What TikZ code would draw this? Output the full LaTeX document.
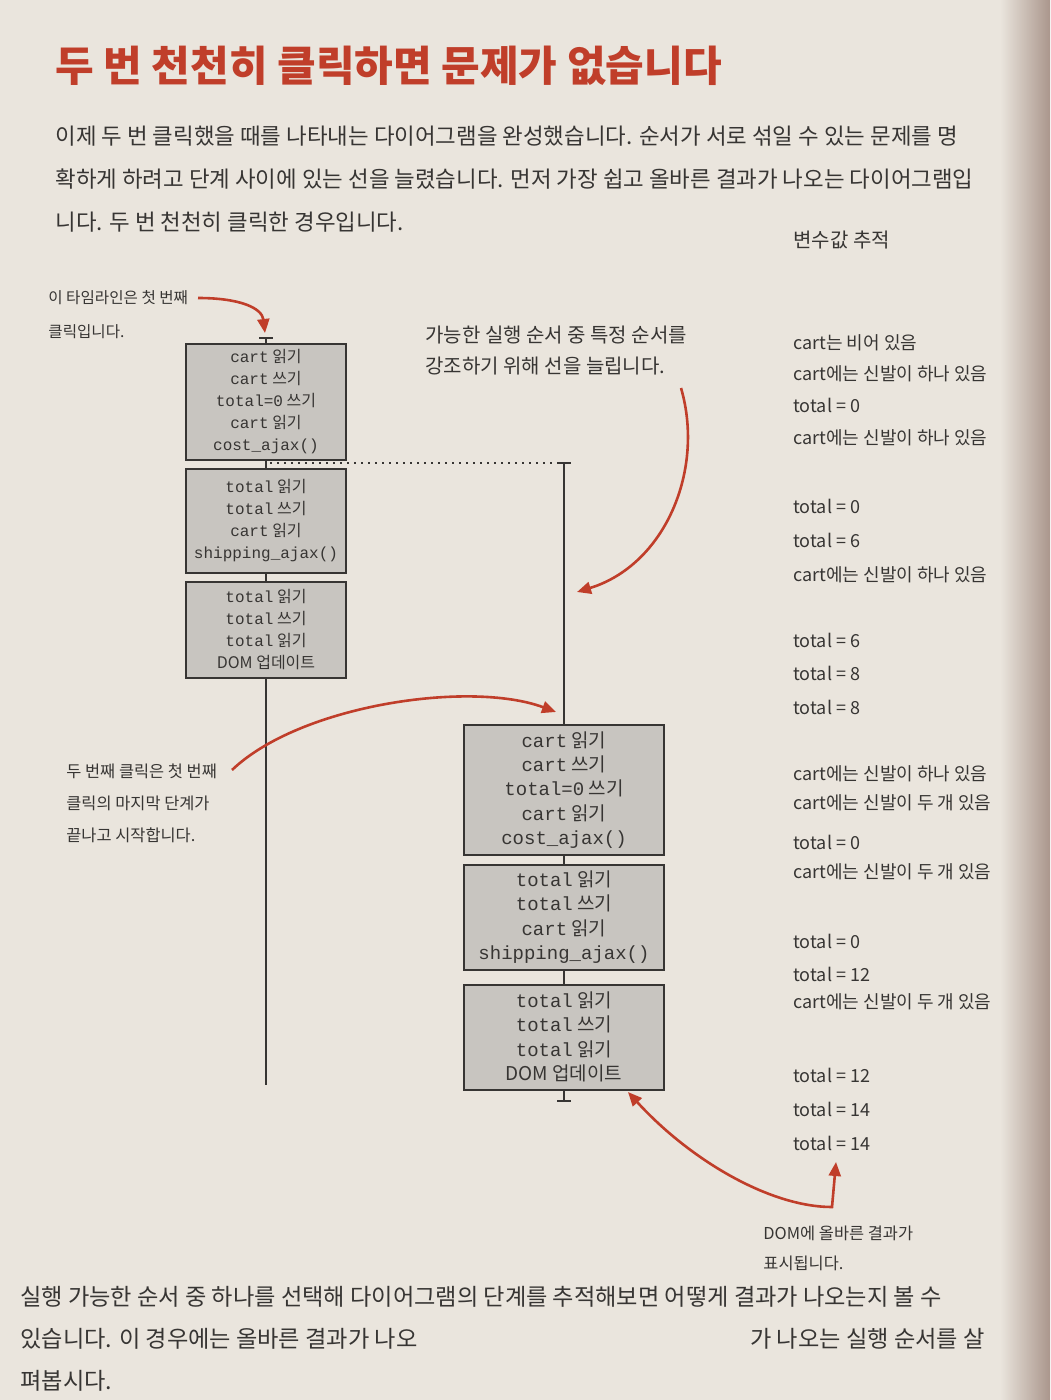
\documentclass[tikz,border=0pt]{standalone}
\usepackage{fontspec}
\setmainfont{Noto Sans CJK KR}
\newfontfamily\monofnt{Liberation Mono}
\usetikzlibrary{arrows.meta,calc}
\definecolor{pagec}{RGB}{234,229,221}
\definecolor{edgec}{RGB}{170,150,140}
\definecolor{boxgray}{RGB}{200,197,192}
\definecolor{redc}{RGB}{192,62,42}
\definecolor{ink}{RGB}{55,53,51}
\newcommand\cdtxt[1]{{\monofnt #1}}
\begin{document}
\begin{tikzpicture}[x=0.5pt,y=-0.5pt,
  every node/.style={inner sep=0pt, text=ink},
  lbox/.style={draw=ink, line width=1pt, fill=boxgray, align=center,
    minimum width=80pt, font=\fontsize{8}{11}\selectfont},
  rbox/.style={draw=ink, line width=1pt, fill=boxgray, align=center,
    minimum width=100pt, font=\fontsize{9.5}{12.2}\selectfont},
  val/.style={anchor=base west, font=\fontsize{9}{11}\selectfont},
  ann/.style={anchor=north west, align=left},
  para/.style={anchor=base west, font=\fontsize{11.2}{13}\selectfont},
  parb/.style={anchor=base west, font=\fontsize{11.6}{13}\selectfont},
  timeline/.style={draw=ink, line width=1pt},
  redarrow/.style={draw=redc, line width=1.3pt, -{Triangle[length=7pt,width=6pt]}},
  redboth/.style={draw=redc, line width=1.3pt, {Triangle[length=7pt,width=6pt]}-{Triangle[length=7pt,width=6pt]}}
]
\useasboundingbox (0,0) rectangle (1050,1400);
\fill[pagec] (0,0) rectangle (1050,1400);
\shade[left color=pagec, right color=edgec] (1000,0) rectangle (1050,1400);

% title and paragraph
\node[anchor=base west, font=\fontsize{21}{24}\selectfont\bfseries, text=redc] (title) at (55,82) {두 번 천천히 클릭하면 문제가 없습니다};
\node[para] (p1) at (55,145) {이제 두 번 클릭했을 때를 나타내는 다이어그램을 완성했습니다. 순서가 서로 섞일 수 있는 문제를 명};
\node[para] (p2) at (55,188) {확하게 하려고 단계 사이에 있는 선을 늘렸습니다. 먼저 가장 쉽고 올바른 결과가 나오는 다이어그램입};
\node[para] (p3) at (55,231) {니다. 두 번 천천히 클릭한 경우입니다.};

% left timeline
\coordinate (Ltop) at (266,338);
\coordinate (Lbot) at (266,1085);
\draw[timeline] (Ltop) -- (Lbot);
\draw[timeline] ([xshift=-3.5pt]Ltop) -- ([xshift=3.5pt]Ltop);
\node[lbox, minimum height=58pt] (b1) at (266,402) {\cdtxt{cart} 읽기\\\cdtxt{cart} 쓰기\\\cdtxt{total=0} 쓰기\\\cdtxt{cart} 읽기\\\cdtxt{cost\_ajax()}};
\node[lbox, minimum height=52pt] (b2) at (266,521) {\cdtxt{total} 읽기\\\cdtxt{total} 쓰기\\\cdtxt{cart} 읽기\\\cdtxt{shipping\_ajax()}};
\node[lbox, minimum height=48pt] (b3) at (266,630) {\cdtxt{total} 읽기\\\cdtxt{total} 쓰기\\\cdtxt{total} 읽기\\DOM 업데이트};

% right timeline
\coordinate (Rtop) at (564,463);
\coordinate (Rbot) at (564,1101);
\coordinate (dotL) at (270,463);
\draw[timeline] (Rtop) -- (Rbot);
\draw[timeline] ([xshift=-3.5pt]Rtop) -- ([xshift=3.5pt]Rtop);
\draw[timeline] ([xshift=-3.5pt]Rbot) -- ([xshift=3.5pt]Rbot);
\draw[ink, line width=1.3pt, dash pattern=on 1.2pt off 2.3pt] (dotL) -- (Rtop);
\node[rbox, minimum height=65pt] (b4) at (564,790) {\cdtxt{cart} 읽기\\\cdtxt{cart} 쓰기\\\cdtxt{total=0} 쓰기\\\cdtxt{cart} 읽기\\\cdtxt{cost\_ajax()}};
\node[rbox, minimum height=52.5pt] (b5) at (564,917) {\cdtxt{total} 읽기\\\cdtxt{total} 쓰기\\\cdtxt{cart} 읽기\\\cdtxt{shipping\_ajax()}};
\node[rbox, minimum height=52.5pt] (b6) at (564,1037) {\cdtxt{total} 읽기\\\cdtxt{total} 쓰기\\\cdtxt{total} 읽기\\DOM 업데이트};

% variable trace column
\node[val, font=\fontsize{10}{12}\selectfont] (vt) at (793,248) {변수값 추적};
\node[val] (v1) at (793,350) {cart는 비어 있음};
\node[val] (v2) at (793,381) {cart에는 신발이 하나 있음};
\node[val] (v3) at (793,413) {total = 0};
\node[val] (v4) at (793,445) {cart에는 신발이 하나 있음};
\node[val] (v5) at (793,513) {total = 0};
\node[val] (v6) at (793,547) {total = 6};
\node[val] (v7) at (793,581) {cart에는 신발이 하나 있음};
\node[val] (v8) at (793,647) {total = 6};
\node[val] (v9) at (793,680) {total = 8};
\node[val] (v10) at (793,714) {total = 8};
\node[val] (v11) at (793,780) {cart에는 신발이 하나 있음};
\node[val] (v12) at (793,809) {cart에는 신발이 두 개 있음};
\node[val] (v13) at (793,849) {total = 0};
\node[val] (v14) at (793,878) {cart에는 신발이 두 개 있음};
\node[val] (v15) at (793,948) {total = 0};
\node[val] (v16) at (793,981) {total = 12};
\node[val] (v17) at (793,1008) {cart에는 신발이 두 개 있음};
\node[val] (v18) at (793,1082) {total = 12};
\node[val] (v19) at (793,1116) {total = 14};
\node[val] (v20) at (793,1150) {total = 14};

% annotations
\node[ann, font=\fontsize{7.8}{17}\selectfont] (n1) at (48,290) {이 타임라인은 첫 번째\\클릭입니다.};
\node[ann, font=\fontsize{10}{15.5}\selectfont] (n2) at (425,326) {가능한 실행 순서 중 특정 순서를\\강조하기 위해 선을 늘립니다.};
\node[ann, font=\fontsize{8.2}{16}\selectfont] (n3) at (66,763) {두 번째 클릭은 첫 번째\\클릭의 마지막 단계가\\끝나고 시작합니다.};
\node[ann, font=\fontsize{8.2}{15}\selectfont] (n4) at (763,1226) {DOM에 올바른 결과가\\표시됩니다.};

% red arrows
\coordinate (a1s) at (198,298);
\coordinate (a1e) at (265,333);
\draw[redarrow] (a1s) .. controls (240,298) and (262,308) .. (a1e);
\coordinate (a2s) at (681,388);
\coordinate (a2e) at (577,592);
\draw[redarrow] (a2s) .. controls (705,470) and (665,565) .. (a2e);
\coordinate (a3s) at (232,770);
\coordinate (a3e) at (556,712);
\draw[redarrow] (a3s) .. controls (300,705) and (470,680) .. (a3e);
\coordinate (a4s) at (628,1092);
\coordinate (a4m) at (832,1207);
\coordinate (a4e) at (836,1162);
\draw[redboth] (a4s) .. controls (690,1160) and (770,1207) .. (a4m) -- (a4e);

% body text below
\node[parb] (q1) at (20,1305) {실행 가능한 순서 중 하나를 선택해 다이어그램의 단계를 추적해보면 어떻게 결과가 나오는지 볼 수};
\node[parb] (q2) at (20,1347) {있습니다. 이 경우에는 올바른 결과가 나오};
\node[parb, anchor=base east] (q2b) at (985,1347) {가 나오는 실행 순서를 살};
\node[parb] (q3) at (20,1389) {펴봅시다.};
\end{tikzpicture}
\end{document}
